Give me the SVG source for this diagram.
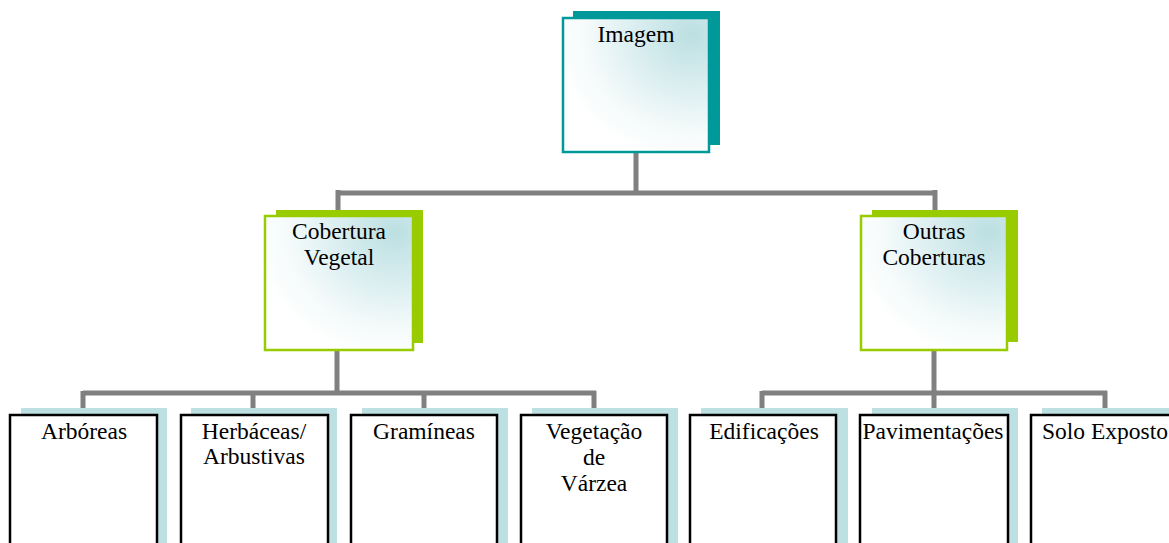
<svg xmlns="http://www.w3.org/2000/svg" width="1169" height="543" viewBox="0 0 1169 543">
  <defs>
    <radialGradient id="grad" cx="0.88" cy="0.12" r="0.95" fx="0.88" fy="0.12">
      <stop offset="0" stop-color="#bcdfe2"/>
      <stop offset="0.35" stop-color="#d6ecee"/>
      <stop offset="0.75" stop-color="#f4fafa"/>
      <stop offset="1" stop-color="#ffffff"/>
    </radialGradient>
    <style>
      .t { font-size: 23.5px; fill: #000; text-anchor: middle; }
      .conn { stroke: #808080; stroke-width: 5; fill: none; }
      .teal { fill: #009999; }
      .green { fill: #99cc00; }
      .lb { fill: #bde0e2; }
      .topbox { fill: url(#grad); stroke: #009999; stroke-width: 2.5; }
      .midbox { fill: url(#grad); stroke: #99cc00; stroke-width: 2.5; }
      .leaf { fill: #ffffff; stroke: #000000; stroke-width: 2.5; }
    </style>
  </defs>

  <g id="connectors">
    <path class="conn" d="M636 152 V193 M336 193 H937 M338 190 V216 M935 190 V216"/>
    <path class="conn" d="M337 350 V393 M83 393 H596 M83 391 V408 M253 391 V408 M424 391 V408 M594 391 V408"/>
    <path class="conn" d="M934 350 V393 M762 393 H1107 M762 391 V408 M934 391 V408 M1105 391 V408"/>
  </g>

  <g font-family="Liberation Serif, Times New Roman, DejaVu Serif, serif">
  <g id="node-imagem">
    <rect class="teal" x="573" y="11" width="147" height="134"/>
    <rect class="topbox" x="563" y="18" width="146" height="134"/>
    <text class="t" x="636" y="42">Imagem</text>
  </g>

  <g id="node-cobertura-vegetal">
    <rect class="green" x="276" y="210" width="147" height="133"/>
    <rect class="midbox" x="265" y="216" width="148" height="134"/>
    <text class="t" x="339" y="239">Cobertura</text>
    <text class="t" x="339" y="265">Vegetal</text>
  </g>

  <g id="node-outras-coberturas">
    <rect class="green" x="872" y="210" width="146" height="132"/>
    <rect class="midbox" x="861" y="216" width="146" height="134"/>
    <text class="t" x="934" y="239">Outras</text>
    <text class="t" x="934" y="265">Coberturas</text>
  </g>

  <g id="node-arboreas">
    <rect class="lb" x="21" y="408" width="146" height="150"/>
    <rect class="leaf" x="10" y="415" width="147" height="150"/>
    <text class="t" x="84" y="439">Arbóreas</text>
  </g>

  <g id="node-herbaceas">
    <rect class="lb" x="191" y="408" width="146" height="150"/>
    <rect class="leaf" x="181" y="415" width="147" height="150"/>
    <text class="t" x="254" y="439">Herbáceas/</text>
    <text class="t" x="254" y="464">Arbustivas</text>
  </g>

  <g id="node-gramineas">
    <rect class="lb" x="362" y="408" width="146" height="150"/>
    <rect class="leaf" x="351" y="415" width="146" height="150"/>
    <text class="t" x="424" y="439">Gramíneas</text>
  </g>

  <g id="node-vegetacao-varzea">
    <rect class="lb" x="532" y="408" width="146" height="150"/>
    <rect class="leaf" x="521" y="415" width="146" height="150"/>
    <text class="t" x="594" y="439">Vegetação</text>
    <text class="t" x="594" y="465">de</text>
    <text class="t" x="594" y="491">Várzea</text>
  </g>

  <g id="node-edificacoes">
    <rect class="lb" x="701" y="408" width="147" height="150"/>
    <rect class="leaf" x="690" y="415" width="146" height="150"/>
    <text class="t" x="764" y="439">Edificações</text>
  </g>

  <g id="node-pavimentacoes">
    <rect class="lb" x="872" y="408" width="146" height="150"/>
    <rect class="leaf" x="860" y="415" width="148" height="150"/>
    <text class="t" x="933" y="439">Pavimentações</text>
  </g>

  <g id="node-solo-exposto">
    <rect class="lb" x="1042" y="408" width="146" height="150"/>
    <rect class="leaf" x="1031" y="415" width="147" height="150"/>
    <text class="t" x="1105" y="439">Solo Exposto</text>
  </g>
  </g>
</svg>
